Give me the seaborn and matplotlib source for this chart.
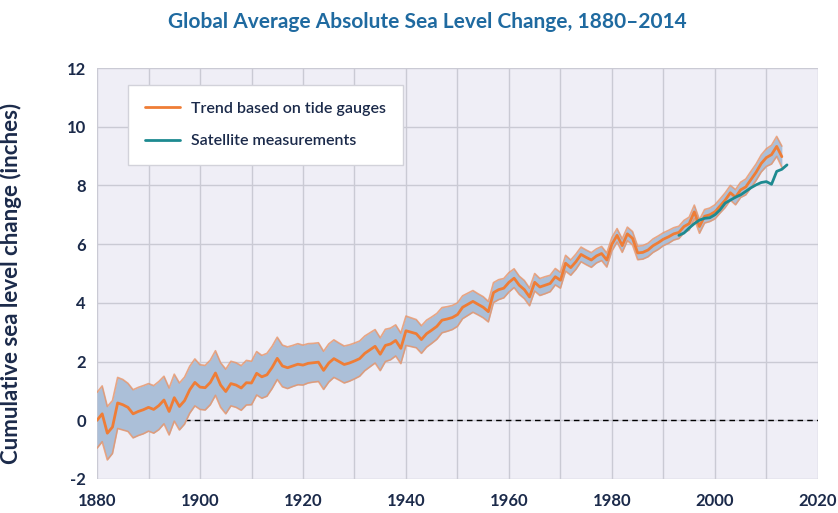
import numpy as np
import pandas as pd
import matplotlib
matplotlib.use("Agg")
import matplotlib.pyplot as plt
import seaborn as sns

# Tendência por marégrafos (CSIRO), 1880-2013, polegadas
anos_mare = np.arange(1880, 2014)
nivel_mare = [
    0.00, 0.22, -0.44, -0.23, 0.59, 0.53, 0.44, 0.22, 0.30, 0.36,
    0.44, 0.37, 0.50, 0.69, 0.30, 0.77, 0.47, 0.67, 1.04, 1.29,
    1.13, 1.11, 1.29, 1.61, 1.20, 0.98, 1.25, 1.20, 1.10, 1.28,
    1.27, 1.60, 1.48, 1.55, 1.80, 2.11, 1.85, 1.79, 1.85, 1.91,
    1.88, 1.94, 1.96, 1.98, 1.70, 1.95, 2.10, 2.00, 1.90, 1.95,
    2.02, 2.10, 2.28, 2.40, 2.52, 2.25, 2.55, 2.60, 2.72, 2.45,
    3.05, 3.00, 2.95, 2.75, 2.95, 3.07, 3.20, 3.41, 3.45, 3.50,
    3.60, 3.85, 3.95, 4.05, 3.95, 3.85, 3.70, 4.35, 4.45, 4.50,
    4.70, 4.84, 4.60, 4.45, 4.20, 4.70, 4.54, 4.60, 4.66, 4.89,
    4.77, 5.35, 5.20, 5.40, 5.65, 5.55, 5.46, 5.60, 5.68, 5.46,
    6.00, 6.30, 5.95, 6.35, 6.20, 5.70, 5.72, 5.80, 5.95, 6.05,
    6.17, 6.25, 6.35, 6.40, 6.60, 6.70, 7.10, 6.60, 6.95, 7.00,
    7.10, 7.30, 7.50, 7.75, 7.60, 7.85, 7.95, 8.20, 8.45, 8.75,
    8.95, 9.05, 9.33, 8.98,
]
# meia largura da faixa de incerteza
erro_mare = [
    0.95, 0.95, 0.91, 0.90, 0.87, 0.86, 0.82, 0.82, 0.82, 0.82,
    0.81, 0.81, 0.82, 0.81, 0.80, 0.80, 0.80, 0.80, 0.80, 0.80,
    0.76, 0.76, 0.76, 0.76, 0.76, 0.76, 0.76, 0.76, 0.76, 0.76,
    0.74, 0.74, 0.73, 0.73, 0.72, 0.72, 0.71, 0.71, 0.70, 0.70,
    0.68, 0.67, 0.66, 0.66, 0.65, 0.65, 0.64, 0.63, 0.63, 0.62,
    0.61, 0.60, 0.59, 0.58, 0.57, 0.56, 0.55, 0.54, 0.53, 0.52,
    0.50, 0.49, 0.48, 0.47, 0.46, 0.45, 0.44, 0.43, 0.42, 0.41,
    0.40, 0.39, 0.38, 0.37, 0.36, 0.36, 0.35, 0.34, 0.34, 0.33,
    0.33, 0.32, 0.31, 0.31, 0.30, 0.30, 0.29, 0.29, 0.28, 0.28,
    0.27, 0.27, 0.26, 0.26, 0.25, 0.25, 0.25, 0.24, 0.24, 0.24,
    0.23, 0.23, 0.23, 0.23, 0.23, 0.23, 0.23, 0.23, 0.23, 0.23,
    0.22, 0.22, 0.21, 0.21, 0.21, 0.22, 0.23, 0.23, 0.23, 0.23,
    0.24, 0.24, 0.25, 0.25, 0.26, 0.26, 0.27, 0.28, 0.28, 0.29,
    0.30, 0.32, 0.34, 0.36,
]

# Medições por satélite (NOAA), 1993-2014
anos_satelite = np.arange(1993, 2015)
nivel_satelite = [
    6.30, 6.38, 6.55, 6.70, 6.82, 6.88, 6.90, 7.00, 7.17, 7.40, 7.50,
    7.60, 7.68, 7.80, 7.92, 8.02, 8.10, 8.13, 8.04, 8.48, 8.55, 8.70,
]

rotulos_x = [1880, 1900, 1920, 1940, 1960, 1980, 2000, 2020]
rotulos_y = [-2, 0, 2, 4, 6, 8, 10, 12]

df_mare = pd.DataFrame({"ano": anos_mare, "nivel": nivel_mare, "erro": erro_mare})
df_mare["inferior"] = df_mare["nivel"] - df_mare["erro"]
df_mare["superior"] = df_mare["nivel"] + df_mare["erro"]
df_sat = pd.DataFrame({"ano": anos_satelite, "nivel": nivel_satelite})

sns.set_style("whitegrid", {
    "axes.facecolor": "#efeef6",
    "grid.color": "#cacad4",
    "axes.edgecolor": "#efeef6",
})
plt.rcParams["font.family"] = ["Lato", "DejaVu Sans"]

cor_texto = "#1b2a4a"
cor_laranja = "#ef7d36"
cor_teal = "#1d8a90"

fig = plt.figure(figsize=(8.38, 5.13), dpi=100)
ax = fig.add_axes([0.1158, 0.0663, 0.8602, 0.8011])

ax.axhline(0, color="black", lw=1, ls=(0, (4, 3)), zorder=1)
ax.fill_between(df_mare["ano"], df_mare["inferior"], df_mare["superior"],
                color="#abbfd8", lw=0, zorder=2)
ax.plot(df_mare["ano"], df_mare["superior"], color="#e89468", lw=1.2, alpha=0.8, zorder=3)
ax.plot(df_mare["ano"], df_mare["inferior"], color="#e89468", lw=1.2, alpha=0.8, zorder=3)

sns.lineplot(data=df_mare, x="ano", y="nivel", color=cor_laranja, lw=2.0,
             label="Trend based on tide gauges", ax=ax, zorder=4)
sns.lineplot(data=df_sat, x="ano", y="nivel", color=cor_teal, lw=2.0,
             label="Satellite measurements", ax=ax, zorder=5)

ax.set_xlim(1880, 2020)
ax.set_ylim(-2, 12)
ax.set_xticks(np.arange(1880, 2021, 10), minor=False)
ax.set_xticklabels([str(a) if a in rotulos_x else "" for a in range(1880, 2021, 10)])
ax.set_yticks(rotulos_y)
ax.set_yticklabels([str(v) for v in rotulos_y])
ax.tick_params(axis="both", length=0, labelsize=12, labelcolor=cor_texto)
ax.tick_params(axis="x", pad=10)
ax.tick_params(axis="y", pad=8)
for t in ax.get_xticklabels() + ax.get_yticklabels():
    t.set_fontweight("bold")
ax.grid(True, lw=1)
for s in ax.spines.values():
    s.set_visible(False)

ax.set_xlabel("")
ax.set_ylabel("Cumulative sea level change (inches)", fontsize=16,
              fontweight="bold", color=cor_texto)
ax.yaxis.set_label_coords(-0.104, 0.477)

fig.suptitle("Global Average Absolute Sea Level Change, 1880\u20132014",
             x=0.51, y=0.977, fontsize=15, fontweight="bold", color="#1f6aa0")

leg = ax.legend(loc="upper left", bbox_to_anchor=(0.043, 0.959), borderaxespad=0,
                frameon=True, fancybox=False, fontsize=11.5, handlelength=2.2,
                handletextpad=0.7, labelspacing=1.15, borderpad=1.05)
leg.get_frame().set_edgecolor("#d2d2da")
leg.get_frame().set_facecolor("white")
leg.get_frame().set_linewidth(1)
leg.get_frame().set_alpha(1)
for t in leg.get_texts():
    t.set_color(cor_texto)
    t.set_fontweight("semibold")

fig.savefig("out.png", dpi=100, facecolor="white")
plt.close(fig)
